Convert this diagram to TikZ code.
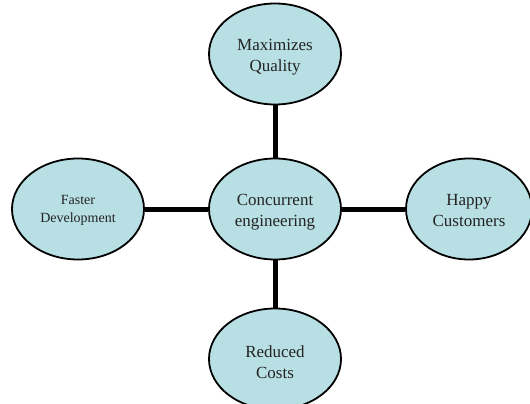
\documentclass[tikz,border=0pt]{standalone}
\usepackage{fontspec}
\setmainfont{Liberation Serif}
\usetikzlibrary{shapes.geometric}
\definecolor{bubble}{RGB}{184,224,228}
\definecolor{ink}{RGB}{35,35,35}
\begin{document}
\begin{tikzpicture}[x=1pt,y=-1pt,
  bubble/.style={ellipse,draw=black,line width=1.8pt,fill=bubble,
    minimum width=132pt,minimum height=101pt,inner sep=0pt},
  caption/.style={align=center,text=ink,inner sep=0pt},
  big/.style={font=\fontsize{17}{21}\selectfont},
  link/.style={line width=5pt,black}]
  \useasboundingbox (0,0) rectangle (530,404);
  \begin{scope}
  \clip (0,0) rectangle (530,404);
  % the five bubbles
  \node[bubble] (quality) at (275,54) {};
  \node[bubble] (faster) at (78,209) {};
  \node[bubble] (center) at (275,209) {};
  \node[bubble,minimum width=126pt] (happy) at (469,209) {};
  \node[bubble] (costs) at (275,359) {};
  % their captions, set slightly below the middle
  \node[caption,big] (qualitytext) at ([yshift=-3pt]quality.center) {Maximizes\\Quality};
  \node[caption,font=\fontsize{14}{18}\selectfont] (fastertext) at ([yshift=-1pt]faster.center) {Faster\\Development};
  \node[caption,big] (centertext) at ([yshift=-3pt]center.center) {Concurrent\\engineering};
  \node[caption,big] (happytext) at ([yshift=-2pt]happy.center) {Happy\\Customers};
  \node[caption,big] (coststext) at ([yshift=-3pt]costs.center) {Reduced\\Costs};
  % spokes from the hub
  \draw[link] (quality.south) -- (center.north);
  \draw[link] (center.south) -- (costs.north);
  \draw[link] (faster.east) -- (center.west);
  \draw[link] (center.east) -- (happy.west);
  \end{scope}
\end{tikzpicture}
\end{document}
